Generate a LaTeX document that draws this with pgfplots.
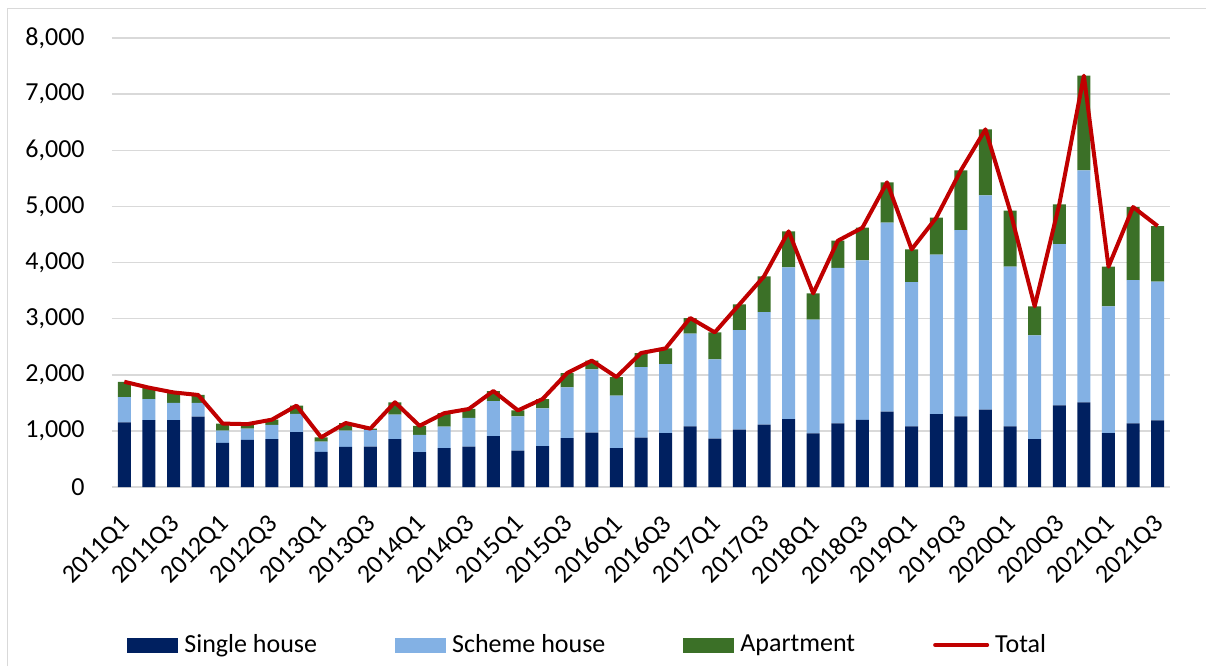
\documentclass[border=0pt]{standalone}
\usepackage{pgfplots}
\usepackage{pgfplotstable}
\pgfplotsset{compat=1.18}
\usepackage{fontspec}
\setmainfont{Carlito}
\definecolor{singlec}{HTML}{002060}
\definecolor{schemec}{HTML}{83B1E4}
\definecolor{aptc}{HTML}{3B7027}
\definecolor{totalc}{HTML}{C00000}
\definecolor{gridc}{HTML}{D9D9D9}
\pgfplotstableread{
x single scheme apt total
0 1150 450 275 1875
1 1190 375 205 1770
2 1190 310 185 1685
3 1255 245 140 1640
4 785 220 125 1130
5 840 200 80 1120
6 855 250 95 1200
7 980 325 145 1450
8 625 185 75 885
9 715 290 135 1140
10 720 300 20 1040
11 855 435 220 1510
12 620 310 160 1090
13 695 380 240 1315
14 720 510 160 1390
15 905 625 180 1710
16 650 610 105 1365
17 728 675 165 1568
18 873 903 255 2031
19 968 1128 155 2251
20 695 932 333 1960
21 879 1259 249 2387
22 962 1229 279 2470
23 1081 1651 279 3011
24 861 1413 481 2755
25 1021 1776 457 3254
26 1110 2008 635 3753
27 1211 2702 642 4555
28 956 2025 469 3450
29 1134 2770 484 4388
30 1194 2844 582 4620
31 1342 3367 719 5428
32 1081 2571 582 4234
33 1300 2839 659 4798
34 1259 3319 1063 5641
35 1378 3818 1176 6372
36 1081 2844 998 4923
37 855 1847 517 3219
38 1455 2874 707 5036
39 1508 4133 1687 7328
40 962 2257 706 3925
41 1134 2554 1300 4988
42 1188 2470 992 4650
}\datatable
\begin{document}
\begin{tikzpicture}
\useasboundingbox (0,0) rectangle (603pt,333pt);
\draw[gridc, line width=0.75pt] (3.75pt,0) -- (3.75pt,328.75pt) -- (603pt,328.75pt);
\begin{axis}[
  at={(56pt,89.5pt)}, anchor=south west,
  scale only axis, width=529pt, height=224.5pt,
  xmin=-0.5, xmax=42.5, ymin=0, ymax=8000,
  ybar stacked, bar width=6.5pt,
  axis x line=bottom, axis y line=left,
  y axis line style={draw=none},
  x axis line style={gridc, line width=0.75pt, -},
  major tick length=0pt, tick style={draw=none},
  ymajorgrids, grid style={gridc, line width=0.75pt},
  ytick={0,1000,...,8000},
  xtick={0,2,...,42},
  xticklabels={2011Q1,2011Q3,2012Q1,2012Q3,2013Q1,2013Q3,2014Q1,2014Q3,2015Q1,2015Q3,2016Q1,2016Q3,2017Q1,2017Q3,2018Q1,2018Q3,2019Q1,2019Q3,2020Q1,2020Q3,2021Q1,2021Q3},
  /pgf/number format/.cd, 1000 sep={,}, assume math mode=true, /pgfplots/.cd,
  scaled y ticks=false,
  tick label style={font=\fontsize{13}{15}\selectfont, text=black},
  yticklabel style={inner sep=0pt, xshift=-13.5pt},
  xticklabel style={xshift=-2.5pt, yshift=-13pt, rotate=45, anchor=north east, inner sep=0pt},
  legend columns=4,
  legend style={draw=none, fill=none, inner sep=0pt, at={(0.0142,-0.3519)}, anchor=west,
    font=\fontsize{13}{15}\selectfont,
    nodes={inner sep=0pt},
    /tikz/every odd column/.append style={column sep=3pt},
    /tikz/every even column/.append style={column sep=39pt}},
]
\addplot[fill=singlec, draw=none, legend image code/.code={\fill[singlec] (0pt,-3.75pt) rectangle (25.5pt,3.75pt);}] table[x=x, y=single] {\datatable};
\addlegendentry{Single house}
\addplot[fill=schemec, draw=none, legend image code/.code={\fill[schemec] (0pt,-3.75pt) rectangle (25.5pt,3.75pt);}] table[x=x, y=scheme] {\datatable};
\addlegendentry{Scheme house}
\addplot[fill=aptc, draw=none, legend image code/.code={\fill[aptc] (0pt,-3.75pt) rectangle (25.5pt,3.75pt);}] table[x=x, y=apt] {\datatable};
\addlegendentry{Apartment}
\addlegendimage{legend image code/.code={\draw[totalc, line width=2pt, line cap=round] (0.5pt,0pt) -- (26.5pt,0pt);}}
\addlegendentry{Total}
\end{axis}
\begin{axis}[
  at={(56pt,89.5pt)}, anchor=south west,
  scale only axis, width=529pt, height=224.5pt,
  xmin=-0.5, xmax=42.5, ymin=0, ymax=8000,
  axis lines=none,
]
\addplot[totalc, line width=2pt, line join=round, mark=none] table[x=x, y=total] {\datatable};
\end{axis}
\end{tikzpicture}
\end{document}
